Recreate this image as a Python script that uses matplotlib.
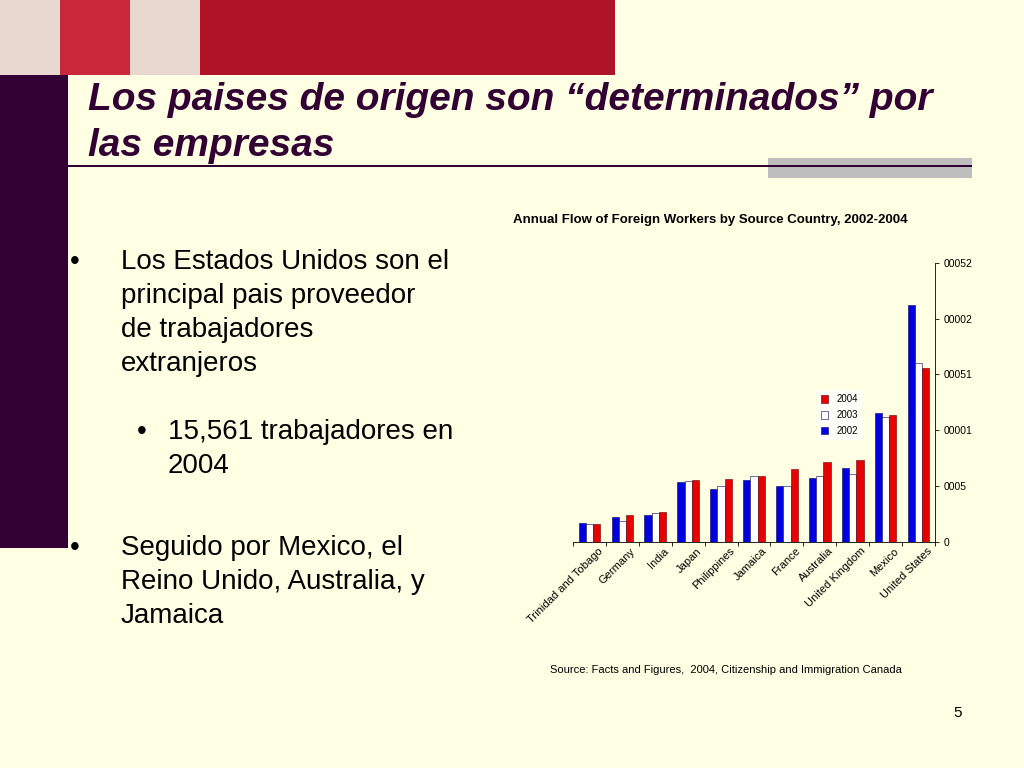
import numpy as np
import matplotlib
matplotlib.use("Agg")
import matplotlib.pyplot as plt
from matplotlib.patches import Rectangle

countries = ["Trinidad and Tobago", "Germany", "India", "Japan", "Philippines", "Jamaica",
             "France", "Australia", "United Kingdom", "Mexico", "United States"]
y2002 = [1700, 2230, 2380, 5360, 4730, 5570, 4970, 5710, 6640, 11580, 21220]
y2003 = [1610, 1880, 2530, 5450, 4970, 5920, 4970, 5920, 6100, 11220, 16070]
y2004 = [1610, 2380, 2620, 5570, 5650, 5920, 6490, 7170, 7320, 11370, 15561]
tick_vals = [0, 5000, 10000, 15000, 20000, 25000]
tick_labels = ["0", "0005", "00001", "00051", "00002", "00052"]

BG = "#FFFFE3"
PURPLE = "#330033"
SANS = "Liberation Sans"

fig = plt.figure(figsize=(10.24, 7.68), dpi=100, facecolor=BG)
W, H = 1024, 768

def px_rect(x0, y0, x1, y1, color, z=0):
    fig.patches.append(Rectangle((x0 / W, 1 - y1 / H), (x1 - x0) / W, (y1 - y0) / H,
                                 transform=fig.transFigure, facecolor=color,
                                 edgecolor="none", zorder=z))

# slide decorations
px_rect(0, 0, 615, 75, "#B01227")
px_rect(0, 0, 200, 75, "#E8D8D0")
px_rect(60, 0, 130, 75, "#C8283A")
px_rect(0, 75, 68, 548, PURPLE)
px_rect(768, 158, 972, 178, "#BDBDBD")
px_rect(68, 165, 972, 167, PURPLE, z=1)

title = dict(fontsize=28, fontweight="bold", style="italic", color=PURPLE, va="center", family=SANS)
fig.text(88 / W, 1 - 100 / H, "Los paises de origen son \u201cdeterminados\u201d por", **title)
fig.text(88 / W, 1 - 146 / H, "las empresas", **title)

body = dict(fontsize=20, color="black", va="center", family=SANS)
def lines(x, y0, rows, bullet_x):
    fig.text(bullet_x / W, 1 - y0 / H, "\u2022", **body)
    for k, r in enumerate(rows):
        fig.text(x / W, 1 - (y0 + 34 * k) / H, r, **body)

lines(121, 262, ["Los Estados Unidos son el", "principal pais proveedor",
                 "de trabajadores", "extranjeros"], 70)
lines(168, 432, ["15,561 trabajadores en", "2004"], 137)
lines(121, 548, ["Seguido por Mexico, el", "Reino Unido, Australia, y", "Jamaica"], 70)
fig.text(958 / W, 1 - 713 / H, "5", fontsize=11, color="black", ha="center", va="center", family=SANS)

fig.text(710 / W, 1 - 220 / H, "Annual Flow of Foreign Workers by Source Country, 2002-2004",
         fontsize=9.5, fontweight="bold", ha="center", va="center", family=SANS)
fig.text(726 / W, 1 - 670 / H, "Source: Facts and Figures,  2004, Citizenship and Immigration Canada",
         fontsize=8, ha="center", va="center", family=SANS)

# chart
ax = fig.add_axes([573 / W, 1 - 541.7 / H, (935 - 573) / W, (541.7 - 263) / H])
ax.set_facecolor("none")
x = np.arange(len(countries))
bw = 0.22
ax.bar(x - bw, y2002, bw, color="#0000E0", edgecolor="#000060", linewidth=0.4, label="2002")
ax.bar(x, y2003, bw, color="white", edgecolor="#000060", linewidth=0.4, label="2003")
ax.bar(x + bw, y2004, bw, color="#E80000", edgecolor="#600000", linewidth=0.4, label="2004")
ax.set_xlim(-0.5, len(countries) - 0.5)
ax.set_ylim(0, 25000)
ax.yaxis.tick_right()
ax.set_yticks(tick_vals)
ax.set_yticklabels(tick_labels, fontsize=7.5, family=SANS)
ax.set_xticks(np.arange(len(countries) + 1) - 0.5)
ax.set_xticklabels([""] * (len(countries) + 1))
for i, c in enumerate(countries):
    ax.text(i + 0.35, -700, c, rotation=45, rotation_mode="anchor", ha="right", va="center",
            fontsize=8, family=SANS)
for s in ("top", "left"):
    ax.spines[s].set_visible(False)
ax.spines["right"].set_linewidth(0.6)
ax.spines["bottom"].set_linewidth(0.6)
ax.tick_params(axis="both", length=3, width=0.6)
h, l = ax.get_legend_handles_labels()
leg = ax.legend(h[::-1], l[::-1], loc="upper left", bbox_to_anchor=(0.66, 0.56),
                prop={"family": SANS, "size": 7}, frameon=True, fancybox=False, edgecolor="none",
                handlelength=0.8, handleheight=0.8, labelspacing=0.6)
leg.get_frame().set_facecolor("white")

fig.savefig("out.png", dpi=100, facecolor=BG)
